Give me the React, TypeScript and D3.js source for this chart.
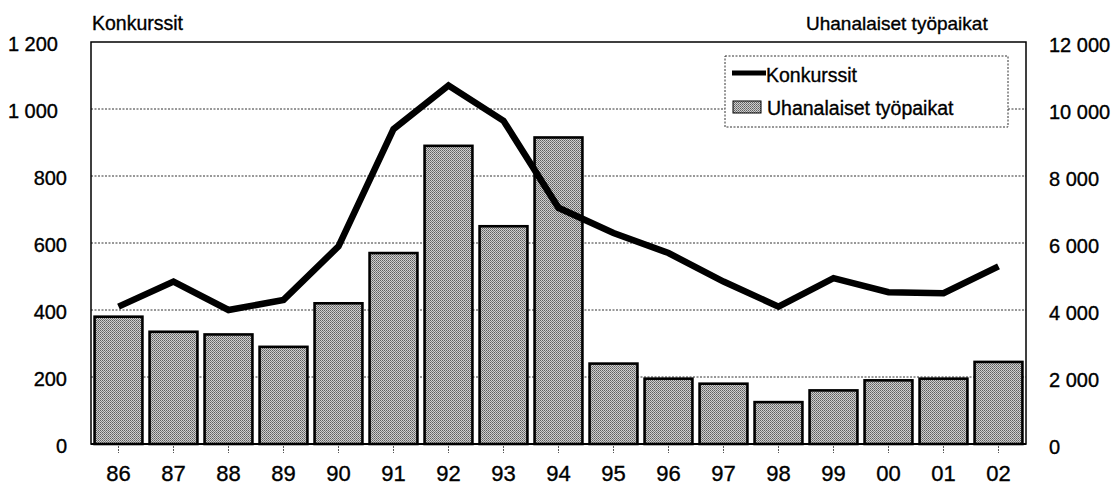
import React from "react";
import * as d3 from "d3";

const years = ["86","87","88","89","90","91","92","93","94","95","96","97","98","99","00","01","02"];
const konkurssit = [410,485,400,430,590,940,1070,965,705,630,570,485,410,495,453,450,530];
const tyopaikat = [3800,3350,3270,2900,4200,5700,8900,6500,9150,2400,1950,1800,1250,1600,1900,1950,2450];
const leftTicks = [0,200,400,600,800,1000,1200];
const rightTicks = [0,2000,4000,6000,8000,10000,12000];
const leftTitle = "Konkurssit";
const rightTitle = "Uhanalaiset työpaikat";
const legendLine = "Konkurssit";
const legendBar = "Uhanalaiset työpaikat";

const fmt = (v: number) => String(v).replace(/\B(?=(\d{3})+(?!\d))/g, " ");

export default function App() {
  const W = 1115, H = 486;
  const L = 91, R = 1026, T = 42, B = 444;
  const font = "'Liberation Sans', Arial, sans-serif";
  const x = d3.scaleBand<string>().domain(years).range([L, R]).paddingInner(0.13).paddingOuter(0.065);
  const yL = d3.scaleLinear().domain([0, 1200]).range([B, T]);
  const yR = d3.scaleLinear().domain([0, 12000]).range([B, T]);
  const cx = (yr: string) => (x(yr) as number) + x.bandwidth() / 2;
  const line = d3.line<number>().x((_, i) => cx(years[i])).y((d) => yL(d));
  const txt = { fill: "#000", stroke: "#000", strokeWidth: 0.35 };

  return (
    <svg width={W} height={H} style={{ position: "absolute", left: 0, top: 0, background: "#fff" }} fontFamily={font}>
      <defs>
        <pattern id="dither" width="2" height="2" patternUnits="userSpaceOnUse">
          <rect width="2" height="2" fill="#cfcfcf" />
          <rect width="1" height="1" fill="#5f5f5f" />
          <rect x="1" y="1" width="1" height="1" fill="#7c7c7c" />
        </pattern>
      </defs>
      {leftTicks.filter((t) => t > 0 && t < 1200).map((t) => (
        <line key={t} x1={L} x2={R} y1={yL(t)} y2={yL(t)} stroke="#333" strokeWidth={1} strokeDasharray="2,1.5" />
      ))}
      {tyopaikat.map((v, i) => (
        <rect key={years[i]} x={x(years[i])} y={yR(v)} width={x.bandwidth()} height={B - yR(v)}
          fill="url(#dither)" stroke="#000" strokeWidth={2.6} />
      ))}
      <rect x={L} y={T} width={R - L} height={B - T} fill="none" stroke="#000" strokeWidth={1.5} />
      <line x1={L} x2={R} y1={B} y2={B} stroke="#000" strokeWidth={2.2} />
      {years.map((yr) => (
        <line key={yr} x1={cx(yr)} x2={cx(yr)} y1={B + 2} y2={B + 9} stroke="#555" strokeWidth={1} strokeDasharray="2,1" />
      ))}
      <path d={line(konkurssit) || ""} fill="none" stroke="#000" strokeWidth={6.5} strokeLinejoin="miter" />
      <rect x={725} y={56} width={283} height={71} fill="#fff" stroke="#333" strokeWidth={1} strokeDasharray="2,1.5" />
      <line x1={732} x2={766} y1={73} y2={73} stroke="#000" strokeWidth={5} />
      <text x={766} y={82} fontSize={19.5} {...txt}>{legendLine}</text>
      <rect x={733} y={101} width={28} height={12} fill="url(#dither)" stroke="#000" strokeWidth={1} />
      <text x={767} y={115} fontSize={19.5} {...txt}>{legendBar}</text>
      {leftTicks.map((t) => (
        <text key={t} x={t >= 1000 ? 58 : 67} y={yL(t) + 8.5} fontSize={20} textAnchor="end" {...txt}>{fmt(t)}</text>
      ))}
      {rightTicks.map((t) => (
        <text key={t} x={1049} y={yR(t) + 9.5} fontSize={20} textAnchor="start" {...txt}>{fmt(t)}</text>
      ))}
      {years.map((yr) => (
        <text key={yr} x={cx(yr)} y={481} fontSize={22} textAnchor="middle" {...txt}>{yr}</text>
      ))}
      <text x={92} y={30} fontSize={19.5} {...txt}>{leftTitle}</text>
      <text x={806} y={30} fontSize={19} {...txt}>{rightTitle}</text>
    </svg>
  );
}
